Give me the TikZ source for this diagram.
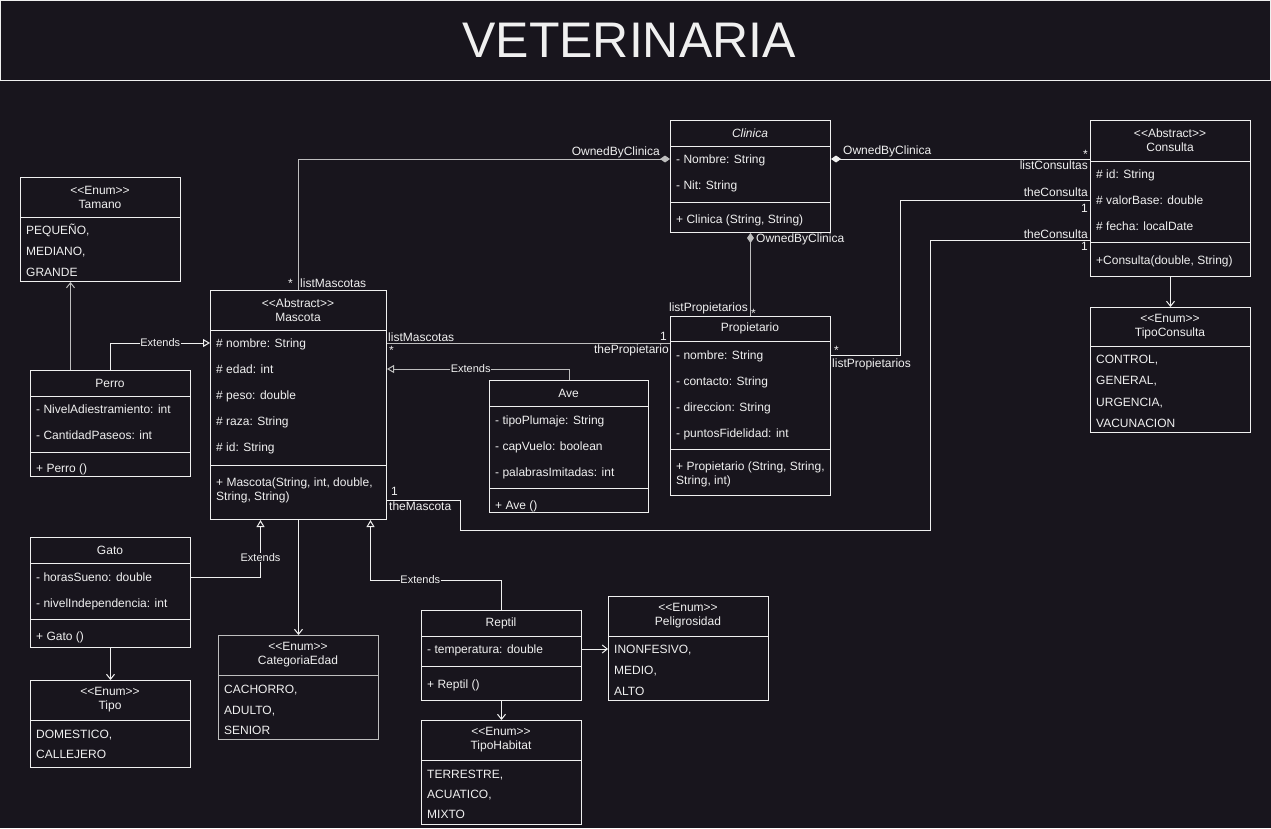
\documentclass[tikz,border=0pt]{standalone}
\usepackage{fontspec}
\setmainfont{Liberation Sans}
\usetikzlibrary{arrows.meta}

\definecolor{bg}{RGB}{24,21,29}
\definecolor{fg}{RGB}{240,240,240}
\definecolor{dim}{RGB}{190,190,190}

\tikzset{
  classbox/.style={draw=fg, line width=1pt, anchor=north west, inner sep=0pt, minimum width=160pt},
  headtext/.style={text=fg, font=\fontsize{12}{14}\selectfont, align=center, inner sep=0pt},
  rowtext/.style={text=fg, font=\fontsize{12}{14}\selectfont, anchor=west, inner sep=0pt, text height=8.6pt, text depth=0pt},
  divider/.style={draw=fg, line width=1pt},
  link/.style={draw=fg, line width=1pt},
  extends/.style={link, -{Triangle[open, length=7pt, width=8pt]}},
  uses/.style={link, -{Straight Barb[length=5pt, width=8pt]}},
  owned/.style={link, {Diamond[length=10pt, width=7pt]}-},
  extlabel/.style={text=fg, fill=bg, font=\fontsize{11}{13}\selectfont, inner sep=0.5pt},
}

\begin{document}
\begin{tikzpicture}[x=1pt, y=-1pt]
  \useasboundingbox (0,0) rectangle (1271,828);
  \fill[bg] (0,0) rectangle (1271,828);

  % Title
  \node[draw=fg, line width=1pt, minimum width=1270pt, minimum height=79.5pt, inner sep=0pt] (title) at (635.5,40.25) {};
  \node[text=fg, inner sep=0pt, font=\fontsize{50}{60}\selectfont] (title-t) at (629,40) {VETERINARIA};

  % Tamano
  \node[classbox, minimum height=104pt] (tamano) at (20,177) {};
  \node[headtext] (tamano-h) at (100,197) {<{}<Enum>{}>\\Tamano};
  \draw[divider] (20,217) -- (180,217);
  \foreach \v [count=\i] in {{PEQUEÑO,},{MEDIANO,},GRANDE}
    \node[rowtext] (tamano-\i) at (26,209+21*\i) {\v};

  % Mascota
  \node[classbox, minimum width=176pt, minimum height=229pt] (mascota) at (210,290) {};
  \node[headtext] (mascota-h) at (298,310) {<{}<Abstract>{}>\\Mascota};
  \draw[divider] (210,330) -- (386,330);
  \foreach \v [count=\i] in {\# nombre: String, \# edad: int, \# peso: double, \# raza: String, \# id: String}
    \node[rowtext] (mascota-\i) at (216,317+26*\i) {\v};
  \draw[divider] (210,465) -- (386,465);
  \node[rowtext] (mascota-m1) at (216,482) {+ Mascota(String, int, double,};
  \node[rowtext] (mascota-m2) at (216,496) {String, String)};

  % Perro
  \node[classbox, minimum height=106pt] (perro) at (30,370) {};
  \node[headtext] (perro-h) at (110,383) {Perro};
  \draw[divider] (30,396) -- (190,396);
  \foreach \v [count=\i] in {- NivelAdiestramiento: int, - CantidadPaseos: int}
    \node[rowtext] (perro-\i) at (36,383+26*\i) {\v};
  \draw[divider] (30,452) -- (190,452);
  \node[rowtext] (perro-m) at (36,468) {+ Perro ()};

  % Clinica
  \node[classbox, minimum height=112pt] (clinica) at (670,120) {};
  \node[headtext] (clinica-h) at (750,133) {\itshape Clinica};
  \draw[divider] (670,146) -- (830,146);
  \foreach \v [count=\i] in {- Nombre: String, - Nit: String}
    \node[rowtext] (clinica-\i) at (676,133+26*\i) {\v};
  \draw[divider] (670,202) -- (830,202);
  \node[rowtext] (clinica-m) at (676,219) {+ Clinica (String, String)};

  % Propietario
  \node[classbox, minimum height=179pt] (propietario) at (670,316) {};
  \node[headtext] (propietario-h) at (750,328.5) {Propietario};
  \draw[divider] (670,341) -- (830,341);
  \foreach \v [count=\i] in {- nombre: String, - contacto: String, - direccion: String, - puntosFidelidad: int}
    \node[rowtext] (propietario-\i) at (676,329+26*\i) {\v};
  \draw[divider] (670,449) -- (830,449);
  \node[rowtext] (propietario-m1) at (676,466) {+ Propietario (String, String,};
  \node[rowtext] (propietario-m2) at (676,480) {String, int)};

  % Ave
  \node[classbox, minimum width=159pt, minimum height=132pt] (ave) at (489,380) {};
  \node[headtext] (ave-h) at (568.5,393) {Ave};
  \draw[divider] (489,406) -- (648,406);
  \foreach \v [count=\i] in {- tipoPlumaje: String, - capVuelo: boolean, - palabrasImitadas: int}
    \node[rowtext] (ave-\i) at (495,394+26*\i) {\v};
  \draw[divider] (489,488) -- (648,488);
  \node[rowtext] (ave-m) at (495,505) {+ Ave ()};

  % Consulta
  \node[classbox, minimum height=156pt] (consulta) at (1090,120) {};
  \node[headtext] (consulta-h) at (1170,140) {<{}<Abstract>{}>\\Consulta};
  \draw[divider] (1090,161) -- (1250,161);
  \foreach \v [count=\i] in {\# id: String, \# valorBase: double, \# fecha: localDate}
    \node[rowtext] (consulta-\i) at (1096,148+26*\i) {\v};
  \draw[divider] (1090,242) -- (1250,242);
  \node[rowtext] (consulta-m) at (1096,260) {+Consulta(double, String)};

  % TipoConsulta
  \node[classbox, minimum height=125pt] (tipoconsulta) at (1090,307) {};
  \node[headtext] (tipoconsulta-h) at (1170,327) {<{}<Enum>{}>\\TipoConsulta};
  \draw[divider] (1090,346) -- (1250,346);
  \foreach \v [count=\i] in {{CONTROL,},{GENERAL,},{URGENCIA,},VACUNACION}
    \node[rowtext] (tipoconsulta-\i) at (1096,338+21.3*\i) {\v};

  % Gato
  \node[classbox, minimum height=110pt] (gato) at (30,537) {};
  \node[headtext] (gato-h) at (110,550) {Gato};
  \draw[divider] (30,563) -- (190,563);
  \foreach \v [count=\i] in {- horasSueno: double, - nivelIndependencia: int}
    \node[rowtext] (gato-\i) at (36,551+26*\i) {\v};
  \draw[divider] (30,619) -- (190,619);
  \node[rowtext] (gato-m) at (36,636) {+ Gato ()};

  % Tipo
  \node[classbox, minimum height=87pt] (tipo) at (30,680) {};
  \node[headtext] (tipo-h) at (110,700) {<{}<Enum>{}>\\Tipo};
  \draw[divider] (30,720) -- (190,720);
  \foreach \v [count=\i] in {{DOMESTICO,},CALLEJERO}
    \node[rowtext] (tipo-\i) at (36,714+20*\i) {\v};

  % CategoriaEdad
  \node[classbox, draw=dim, minimum height=104pt] (categoria) at (218,635) {};
  \node[headtext] (categoria-h) at (298,655) {<{}<Enum>{}>\\CategoriaEdad};
  \draw[divider, draw=dim] (218,675) -- (378,675);
  \foreach \v [count=\i] in {{CACHORRO,},{ADULTO,},SENIOR}
    \node[rowtext] (categoria-\i) at (224,668.7+20.5*\i) {\v};

  % Reptil
  \node[classbox, minimum height=90pt] (reptil) at (421,610) {};
  \node[headtext] (reptil-h) at (501,623) {Reptil};
  \draw[divider] (421,636) -- (581,636);
  \node[rowtext] (reptil-1) at (427,649) {- temperatura: double};
  \draw[divider] (421,666) -- (581,666);
  \node[rowtext] (reptil-m) at (427,684) {+ Reptil ()};

  % Peligrosidad
  \node[classbox, minimum height=104pt] (peligrosidad) at (608,596) {};
  \node[headtext] (peligrosidad-h) at (688,616) {<{}<Enum>{}>\\Peligrosidad};
  \draw[divider] (608,636) -- (768,636);
  \foreach \v [count=\i] in {{INONFESIVO,},{MEDIO,},ALTO}
    \node[rowtext] (peligrosidad-\i) at (614,628+21*\i) {\v};

  % TipoHabitat
  \node[classbox, minimum height=104pt] (tipohabitat) at (421,720) {};
  \node[headtext] (tipohabitat-h) at (501,740) {<{}<Enum>{}>\\TipoHabitat};
  \draw[divider] (421,760) -- (581,760);
  \foreach \v [count=\i] in {{TERRESTRE,},{ACUATICO,},MIXTO}
    \node[rowtext] (tipohabitat-\i) at (427,753.7+20.3*\i) {\v};

  % Inheritance
  \draw[extends] (perro.north) |- (mascota.west |- mascota-1) node[extlabel, pos=0.75] (ext-perro) {Extends};
  \draw[extends, draw=dim] (ave.north) |- (mascota.east |- mascota-2) node[extlabel, pos=0.77] (ext-ave) {Extends};
  \draw[extends] (gato.east |- gato-1) -| ([xshift=-38pt]mascota.south) node[extlabel, pos=0.67] (ext-gato) {Extends};
  \draw[extends] (reptil.north) -- ++(0,-30) -| ([xshift=72pt]mascota.south) node[extlabel, pos=0.31] (ext-reptil) {Extends};

  % Enum usage
  \draw[uses, draw=dim] ([xshift=-40pt]perro.north) -- ([xshift=-30pt]tamano.south);
  \draw[uses] (mascota.south) -- (categoria.north);
  \draw[uses] (gato.south) -- (tipo.north);
  \draw[uses] (reptil.east |- reptil-1) -- (peligrosidad.west |- reptil-1);
  \draw[uses] (reptil.south) -- (tipohabitat.north);
  \draw[uses] (consulta.south) -- (tipoconsulta.north);

  % Composition
  \draw[owned, draw=dim] (clinica.west |- clinica-1) -| (mascota.north);
  \draw[owned] (clinica.east |- clinica-1) -- (consulta.west |- clinica-1);
  \draw[owned, draw=dim] (clinica.south) -- (propietario.north);

  % Associations
  \coordinate (bendA) at (900,0);
  \coordinate (bendB) at (460,530);
  \coordinate (bendC) at (930,240);
  \coordinate (petout) at (386,500);
  \draw[link, draw=dim] (mascota.east |- mascota-1) -- (propietario.west |- mascota-1);
  \draw[link] (propietario.east |- propietario-1) -| (bendA |- consulta-2) -- (consulta.west |- consulta-2);
  \draw[link] (petout) -| (bendB) -| (bendC) -- (consulta.west |- bendC);

  % Roles and multiplicities
  \node[rowtext, anchor=east] (r1) at (660,151) {OwnedByClinica};
  \node[rowtext] (r2) at (288,283.5) {*};
  \node[rowtext] (r3) at (300,283) {listMascotas};
  \node[rowtext] (r4) at (843,150) {OwnedByClinica};
  \node[rowtext, anchor=east] (r5) at (1088,154.4) {*};
  \node[rowtext, anchor=east] (r6) at (1088,165.5) {listConsultas};
  \node[rowtext] (r7) at (756,238) {OwnedByClinica};
  \node[rowtext, anchor=east] (r8) at (748,307) {listPropietarios};
  \node[rowtext] (r9) at (751,313.6) {*};
  \node[rowtext] (r10) at (388,337) {listMascotas};
  \node[rowtext] (r11) at (389,350.6) {*};
  \node[rowtext, anchor=east] (r12) at (667,336) {1};
  \node[rowtext, anchor=east] (r13) at (669,349) {thePropietario};
  \node[rowtext] (r14) at (391,491) {1};
  \node[rowtext] (r15) at (389,506) {theMascota};
  \node[rowtext, anchor=east] (r16) at (1088,234) {theConsulta};
  \node[rowtext, anchor=east] (r17) at (1088,246) {1};
  \node[rowtext] (r18) at (834,350.6) {*};
  \node[rowtext] (r19) at (832,363) {listPropietarios};
  \node[rowtext, anchor=east] (r20) at (1088,192) {theConsulta};
  \node[rowtext, anchor=east] (r21) at (1088,208) {1};
\end{tikzpicture}
\end{document}
